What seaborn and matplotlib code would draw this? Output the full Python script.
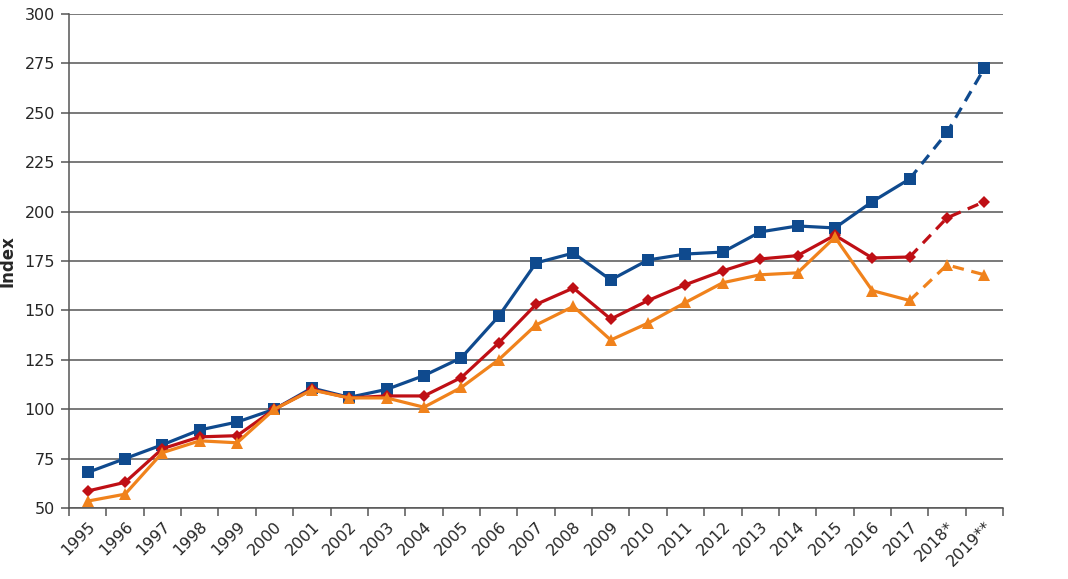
import numpy as np
import pandas as pd
import matplotlib
matplotlib.use("Agg")
import matplotlib.pyplot as plt
import seaborn as sns

years = ["1995", "1996", "1997", "1998", "1999", "2000", "2001", "2002", "2003",
         "2004", "2005", "2006", "2007", "2008", "2009", "2010", "2011", "2012",
         "2013", "2014", "2015", "2016", "2017", "2018*", "2019**"]

blue = [68, 75, 82, 89.5, 93.5, 100, 110.7, 106, 110, 117, 126, 147, 174, 179,
        165.4, 175.5, 178.5, 179.5, 189.7, 192.7, 191.7, 205, 216.5, 240, 272.5]
red = [58.6, 63, 80, 86, 86.6, 100, 110, 105.7, 106.7, 106.7, 116, 133.5, 153,
       161.3, 145.6, 155, 163, 170, 176, 177.7, 188, 176.5, 177, 196.8, 205]
orange = [53.5, 57, 78, 84, 83, 100, 109.7, 105.7, 105.7, 101, 111, 125, 142.6,
          152, 135, 143.6, 154, 164, 168, 169, 187, 160, 155, 173, 168]

last_actual = "2017"

series = {"blue": blue, "red": red, "orange": orange}
colors = {"blue": "#0f4a8e", "red": "#bf0f15", "orange": "#f0821c"}
markers = {"blue": "s", "red": "D", "orange": "^"}
msizes = {"blue": 9, "red": 6.5, "orange": 9}

pos = np.arange(len(years))
cut = years.index(last_actual)

rows = []
for name, vals in series.items():
    for i, v in enumerate(vals):
        if i <= cut:
            rows.append({"pos": i, "value": v, "series": name, "part": "actual"})
        if i >= cut:
            rows.append({"pos": i, "value": v, "series": name, "part": "forecast"})
df = pd.DataFrame(rows)

sns.set_style("white")
plt.rcParams["font.family"] = ["DejaVu Sans"]

fig = plt.figure(figsize=(10.68, 5.79), dpi=100)
ax = fig.add_axes([0.0646, 0.1226, 0.8746, 0.8534])

for name in series:
    sub = df[df["series"] == name]
    act = sub[sub["part"] == "actual"]
    fc = sub[sub["part"] == "forecast"]
    sns.lineplot(data=act, x="pos", y="value", ax=ax, color=colors[name],
                 linewidth=2.3, marker=markers[name], markersize=msizes[name],
                 markeredgewidth=0, zorder=3)
    sns.lineplot(data=fc, x="pos", y="value", ax=ax, color=colors[name],
                 linewidth=2.3, linestyle=(0, (3.6, 2.4)), zorder=3)
    fpts = fc[fc["pos"] > cut]
    ax.plot(fpts["pos"], fpts["value"], linestyle="none", marker=markers[name],
            markersize=msizes[name], markeredgewidth=0, color=colors[name], zorder=4)

ax.set_xlim(-0.5, len(years) - 0.5)
ax.set_ylim(50, 300)
ax.set_yticks(np.arange(50, 301, 25))
ax.yaxis.grid(True, color="#555555", linewidth=1.1)
ax.xaxis.grid(False)
ax.set_axisbelow(True)

ax.set_xticks(pos)
ax.set_xticklabels(years, rotation=45, ha="right", rotation_mode="anchor")
ax.set_xticks(np.arange(-0.5, len(years), 1), minor=True)
ax.tick_params(axis="x", which="major", length=0, labelsize=11.5, pad=8)
ax.tick_params(axis="x", which="minor", length=6, width=1.1, color="#555555",
               direction="out", bottom=True)
ax.tick_params(axis="y", length=6, width=1.1, color="#555555", direction="out",
               labelsize=11.5, left=True, pad=4)

for s in ["top", "right"]:
    ax.spines[s].set_visible(False)
for s in ["left", "bottom"]:
    ax.spines[s].set_color("#555555")
    ax.spines[s].set_linewidth(1.1)

ax.set_xlabel("")
ax.set_ylabel("Index", fontsize=12, fontweight="bold")
ax.yaxis.set_label_coords(-0.056, 0.5)

fig.savefig("out.png", dpi=100)
